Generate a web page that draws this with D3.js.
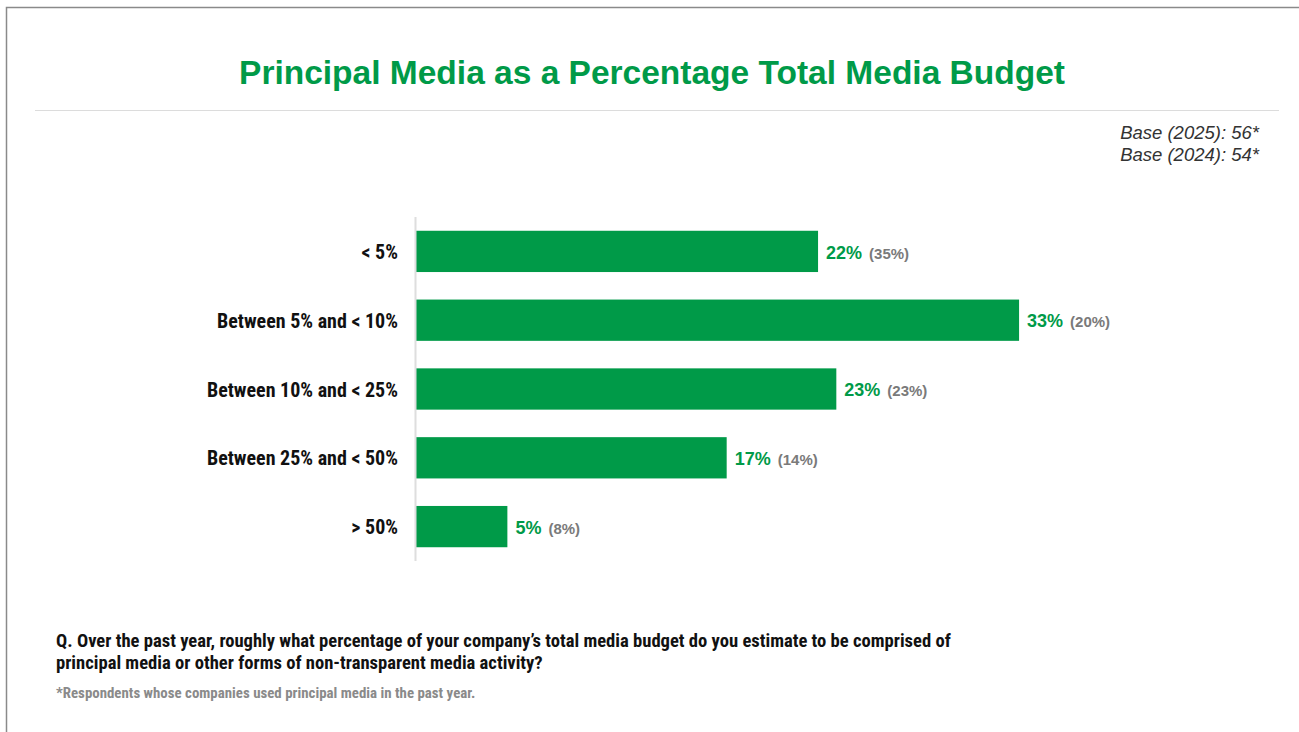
<!DOCTYPE html>
<html>
<head>
<meta charset="utf-8">
<script src="https://cdn.jsdelivr.net/npm/d3@7"></script>
<style>
  html, body { margin: 0; padding: 0; background: #fff; }
  svg { display: block; }
</style>
</head>
<body>
<svg id="chart" width="1299" height="732"></svg>
<script>
// Share of total media budget going to principal media
const categories = ["< 5%", "Between 5% and < 10%", "Between 10% and < 25%", "Between 25% and < 50%", "> 50%"];
const values2025 = [22, 33, 23, 17, 5];
const values2024 = [35, 20, 23, 14, 8];
const baseLines = ["Base (2025): 56*", "Base (2024): 54*"];

const green = "#009a48";
const narrow = "'Liberation Sans Narrow', 'Arial Narrow', 'Roboto Condensed', sans-serif";
const sans = "'Liberation Sans', Arial, Helvetica, sans-serif";

const svg = d3.select("#chart");

// Frame
svg.append("path")
  .attr("d", "M6.5,732 L6.5,7.5 L1299,7.5")
  .attr("fill", "none")
  .attr("stroke", "#8a8a8a")
  .attr("stroke-width", 1.5);

// Title
svg.append("text")
  .attr("x", 652).attr("y", 84)
  .attr("text-anchor", "middle")
  .attr("font-family", sans)
  .attr("font-weight", "bold")
  .attr("font-size", 33.5)
  .attr("fill", green)
  .text("Principal Media as a Percentage Total Media Budget");

svg.append("line")
  .attr("x1", 35).attr("x2", 1279)
  .attr("y1", 110.5).attr("y2", 110.5)
  .attr("stroke", "#dcdcdc").attr("stroke-width", 1);

// Base sizes
svg.selectAll("text.base")
  .data(baseLines)
  .join("text")
  .attr("class", "base")
  .attr("x", 1259)
  .attr("y", (d, i) => 139 + i * 22)
  .attr("text-anchor", "end")
  .attr("font-family", sans)
  .attr("font-style", "italic")
  .attr("font-size", 18.5)
  .attr("fill", "#333")
  .text(d => d);

// Scales
const x = d3.scaleLinear().domain([0, 40]).range([416, 1147]);
const y = d3.scaleBand().domain(categories).range([217, 561]).paddingInner(0.4).paddingOuter(0.2);

// Bars
svg.selectAll("rect.bar")
  .data(categories)
  .join("rect")
  .attr("class", "bar")
  .attr("x", x(0))
  .attr("y", d => y(d))
  .attr("width", (d, i) => x(values2025[i]) - x(0))
  .attr("height", y.bandwidth())
  .attr("fill", green);

// Category axis
const yAxis = d3.axisLeft(y).tickSize(0).tickPadding(18);
const gAxis = svg.append("g")
  .attr("transform", `translate(${x(0)},0)`)
  .call(yAxis);
gAxis.select(".domain")
  .attr("stroke", "#dedede")
  .attr("stroke-width", 2)
  .attr("d", "M-0.5,217V561");
gAxis.selectAll(".tick text")
  .attr("font-family", narrow)
  .attr("font-weight", "bold")
  .attr("font-size", 20)
  .attr("dy", "0.38em")
  .attr("fill", "#111");

// Value labels: current year in green, prior year in grey parentheses
const labels = svg.selectAll("text.val")
  .data(categories)
  .join("text")
  .attr("class", "val")
  .attr("x", (d, i) => x(values2025[i]) + 8)
  .attr("y", d => y(d) + y.bandwidth() / 2)
  .attr("dy", "0.45em")
  .attr("font-family", sans)
  .attr("font-weight", "bold");
labels.append("tspan")
  .attr("font-size", 18)
  .attr("fill", green)
  .text((d, i) => values2025[i] + "%");
labels.append("tspan")
  .attr("dx", 7)
  .attr("font-size", 15)
  .attr("fill", "#7a7a7a")
  .text((d, i) => "(" + values2024[i] + "%)");

// Question and footnote
const question = [
  "Q. Over the past year, roughly what percentage of your company\u2019s total media budget do you estimate to be comprised of",
  "principal media or other forms of non-transparent media activity?"
];
svg.selectAll("text.q")
  .data(question)
  .join("text")
  .attr("class", "q")
  .attr("x", 56)
  .attr("y", (d, i) => 647 + i * 22)
  .attr("font-family", narrow)
  .attr("font-weight", "bold")
  .attr("font-size", 18.6)
  .attr("fill", "#111")
  .text(d => d);

svg.append("text")
  .attr("x", 56).attr("y", 698)
  .attr("font-family", narrow)
  .attr("font-weight", "bold")
  .attr("font-size", 14.9)
  .attr("fill", "#8a8a8a")
  .text("*Respondents whose companies used principal media in the past year.");
</script>
</body>
</html>
